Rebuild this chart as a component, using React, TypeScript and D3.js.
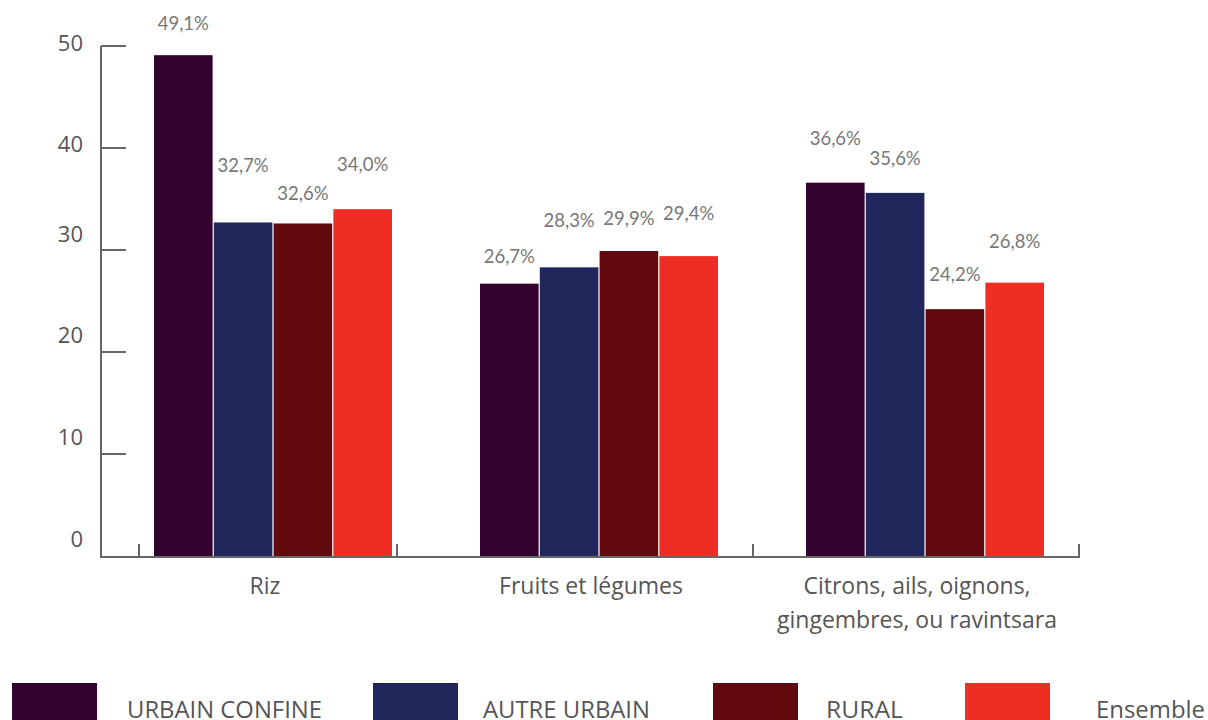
import React from "react";
import * as d3 from "d3";

const categories = ["Riz", "Fruits et légumes", "Citrons, ails, oignons, gingembres, ou ravintsara"];
const categoryLines = [["Riz"], ["Fruits et légumes"], ["Citrons, ails, oignons,", "gingembres, ou ravintsara"]];
const seriesNames = ["URBAIN CONFINE", "AUTRE URBAIN", "RURAL", "Ensemble"];
const urbainConfine = [49.1, 26.7, 36.6];
const autreUrbain = [32.7, 28.3, 35.6];
const rural = [32.6, 29.9, 24.2];
const ensemble = [34.0, 29.4, 26.8];
const yTicks = [0, 10, 20, 30, 40, 50];

const seriesValues = [urbainConfine, autreUrbain, rural, ensemble];
const colors = ["#33022f", "#20275a", "#62090e", "#ee2e24"];
// label vertical offsets (px, centre relative to bar top), per series x category
const labelDy = [
  [-30, -25, -42],
  [-55, -45, -33],
  [-28, -31, -33],
  [-43, -41, -39],
];
const tickLabelDy = [-15, -15, -15, -14, -2, -1];
const axisTickX = [139, 397, 753, 1079];

export default function App() {
  const W = 1208, H = 720;
  const y = d3.scaleLinear().domain([0, 50]).range([556, 46]);
  const x0 = d3.scaleBand<number>().domain(d3.range(categories.length)).range([110, 1088]).paddingInner(0.27).paddingOuter(0.135);
  const x1 = d3.scaleBand<number>().domain(d3.range(seriesNames.length)).range([0, x0.bandwidth()]).paddingInner(0.02);
  const grey = "#666";
  const legendX = [12, 373, 713, 965];
  const legendTextX = [127, 483, 826, 1096];
  const legendTextW = [195, 167, 77, 109];
  return (
    <svg width={W} height={H} style={{ position: "absolute", left: 0, top: 0, background: "#fff" }}>
      {/* y axis */}
      <line x1={101} x2={101} y1={y(50)} y2={y(0) + 1} stroke={grey} strokeWidth={2} />
      {yTicks.map((t, i) => (
        <g key={t}>
          {t > 0 && <line x1={101} x2={126} y1={y(t)} y2={y(t)} stroke={grey} strokeWidth={2} />}
          <text x={83} y={y(t) + tickLabelDy[i]} textAnchor="end" dominantBaseline="middle"
            fontFamily="'Open Sans', sans-serif" fontSize={22} fill="#555">{t}</text>
        </g>
      ))}
      {/* bars */}
      {categories.map((c, ci) => (
        <g key={c} transform={`translate(${x0(ci)},0)`}>
          {seriesValues.map((vals, si) => (
            <rect key={si} x={x1(si)} y={y(vals[ci])} width={x1.bandwidth()} height={y(0) - y(vals[ci])} fill={colors[si]} />
          ))}
          {seriesValues.map((vals, si) => (
            <text key={"l" + si} x={(x1(si) as number) + x1.bandwidth() / 2} y={y(vals[ci]) + labelDy[si][ci]}
              textAnchor="middle" dominantBaseline="middle" fontFamily="Lato, sans-serif" fontSize={18.5} fill="#777">
              {vals[ci].toFixed(1).replace(".", ",") + "%"}
            </text>
          ))}
        </g>
      ))}
      {/* x axis */}
      <line x1={100} x2={1080} y1={y(0) + 1} y2={y(0) + 1} stroke={grey} strokeWidth={2} />
      {axisTickX.map((tx) => (
        <line key={tx} x1={tx} x2={tx} y1={y(0) + 1} y2={y(0) - 12} stroke={grey} strokeWidth={2} />
      ))}
      {categoryLines.map((lines, ci) => (
        <text key={ci} textAnchor="middle" fontFamily="'Open Sans', sans-serif" fontSize={23} fill="#555">
          {lines.map((ln, li) => (
            <tspan key={li} x={(x0(ci) as number) + x0.bandwidth() / 2 - 8} y={594 + li * 34}>{ln}</tspan>
          ))}
        </text>
      ))}
      {/* legend */}
      {seriesNames.map((s, i) => (
        <g key={s}>
          <rect x={legendX[i]} y={683} width={85} height={37} fill={colors[i]} />
          <text x={legendTextX[i]} y={718} fontFamily="'Open Sans', sans-serif" fontSize={23} fill="#555"
            textLength={legendTextW[i]} lengthAdjust="spacingAndGlyphs">{s}</text>
        </g>
      ))}
    </svg>
  );
}
